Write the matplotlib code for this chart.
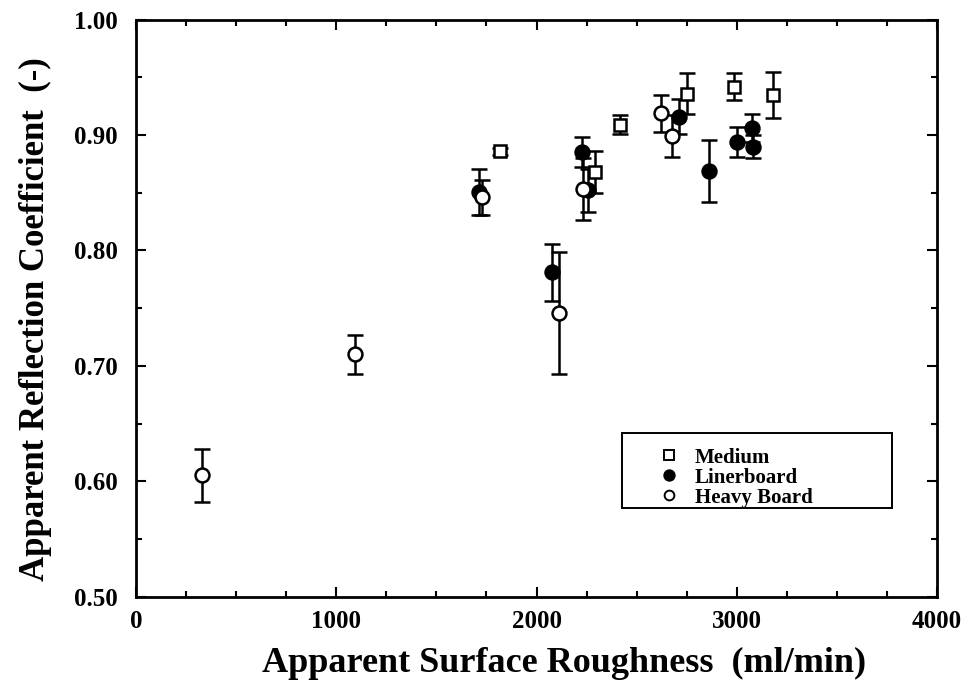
import matplotlib
matplotlib.use("Agg")
import matplotlib.pyplot as plt
from matplotlib.ticker import MultipleLocator
from matplotlib.lines import Line2D
from matplotlib.patches import Rectangle

plt.rcParams['font.family'] = ['Liberation Serif', 'DejaVu Serif']
plt.rcParams['font.weight'] = 'bold'

# Medium (open squares)
med_x = [1818, 2292, 2417, 2753, 2986, 3182]
med_y = [0.886, 0.868, 0.909, 0.936, 0.942, 0.935]
med_e = [0.003, 0.018, 0.008, 0.018, 0.012, 0.020]

# Linerboard (filled circles)
lin_x = [1713, 2076, 2225, 2257, 2713, 2863, 2999, 3074, 3082]
lin_y = [0.851, 0.781, 0.885, 0.852, 0.916, 0.869, 0.894, 0.906, 0.890]
lin_e = [0.020, 0.025, 0.013, 0.019, 0.015, 0.027, 0.013, 0.012, 0.010]

# Heavy Board (open circles)
hb_x = [331, 1094, 1726, 2112, 2232, 2620, 2675]
hb_y = [0.605, 0.710, 0.846, 0.746, 0.853, 0.919, 0.899]
hb_e = [0.023, 0.017, 0.015, 0.053, 0.027, 0.016, 0.018]

labels = ['Medium', 'Linerboard', 'Heavy Board']
x_ticks = [0, 1000, 2000, 3000, 4000]
y_ticks = [0.50, 0.60, 0.70, 0.80, 0.90, 1.00]

fig = plt.figure(figsize=(9.69, 6.87), dpi=100)
ax = fig.add_axes([0.1404, 0.1316, 0.8266, 0.8397])

ekw = dict(ecolor='black', elinewidth=1.8, capsize=5.5, capthick=1.8, linestyle='none')
ax.errorbar(med_x, med_y, yerr=med_e, marker='s', ms=9, mfc='white', mec='black', mew=1.8, **ekw, zorder=3)
ax.errorbar(lin_x, lin_y, yerr=lin_e, marker='o', ms=10, mfc='black', mec='black', mew=1.8, **ekw, zorder=3)
ax.errorbar(hb_x, hb_y, yerr=hb_e, marker='o', ms=10, mfc='white', mec='black', mew=1.8, **ekw, zorder=3)

ax.set_xlim(0, 4000)
ax.set_ylim(0.50, 1.00)
ax.set_xticks(x_ticks)
ax.set_xticklabels([str(v) for v in x_ticks])
ax.xaxis.set_minor_locator(MultipleLocator(250))
ax.set_yticks(y_ticks)
ax.set_yticklabels(['%.2f' % v for v in y_ticks])
ax.yaxis.set_minor_locator(MultipleLocator(0.05))
ax.tick_params(which='both', direction='in', top=True, right=True, width=1.5)
ax.tick_params(which='major', length=7, labelsize=18)
ax.tick_params(which='minor', length=4)
ax.tick_params(axis='x', which='major', pad=10)
ax.tick_params(axis='y', which='major', pad=13)
for lab in ax.get_xticklabels() + ax.get_yticklabels():
    lab.set_fontweight('bold')
for s in ax.spines.values():
    s.set_linewidth(2.0)

ax.set_xlabel('Apparent Surface Roughness  (ml/min)', fontsize=26, fontweight='bold')
ax.xaxis.set_label_coords(0.534, -0.088)
ax.set_ylabel('Apparent Reflection Coefficient  (-)', fontsize=25, fontweight='bold')
ax.yaxis.set_label_coords(-0.105, 0.481)

handles = [
    Line2D([], [], marker='s', ls='none', ms=6.5, mfc='white', mec='black', mew=1.4),
    Line2D([], [], marker='o', ls='none', ms=7.5, mfc='black', mec='black', mew=1.4),
    Line2D([], [], marker='o', ls='none', ms=7, mfc='white', mec='black', mew=1.4),
]
leg = ax.legend(handles, labels,
                loc='center left', bbox_to_anchor=(0.652, 0.2064),
                prop={'family': 'Liberation Serif', 'weight': 'bold', 'size': 15},
                frameon=False, handletextpad=0.75, labelspacing=0.0,
                handlelength=1.0, borderpad=0, borderaxespad=0)
ax.add_patch(Rectangle((0.6067, 0.1536), 0.9438 - 0.6067, 0.2835 - 0.1536,
                       transform=ax.transAxes, fill=False, edgecolor='black',
                       linewidth=1.4, zorder=4))

fig.savefig('out.png', dpi=100)
